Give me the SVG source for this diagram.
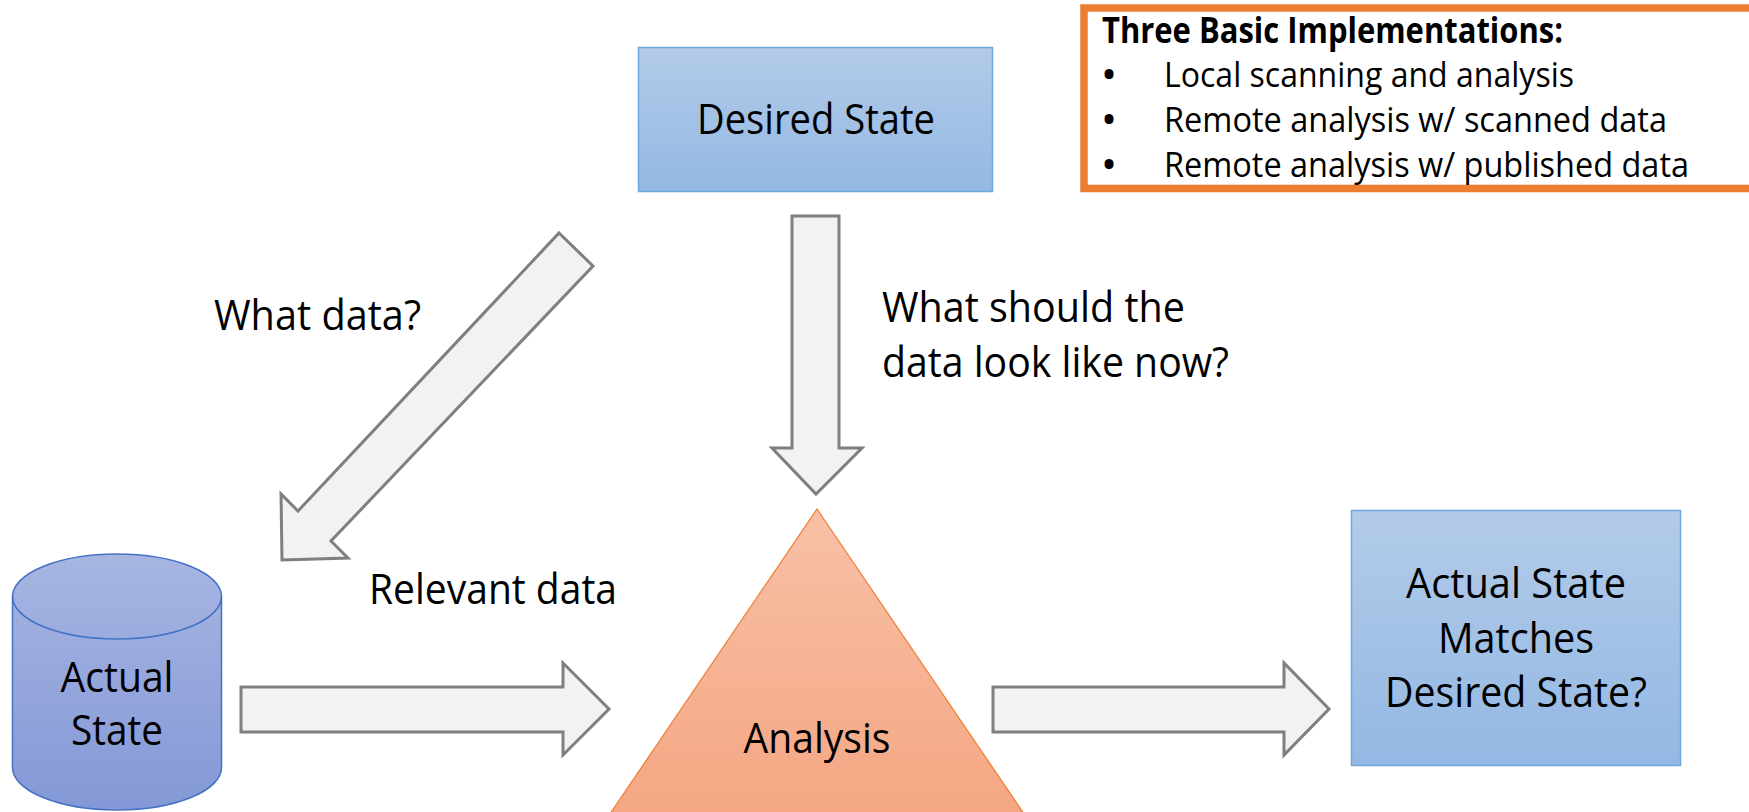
<svg xmlns="http://www.w3.org/2000/svg" width="1749" height="812" viewBox="0 0 1749 812">
<defs>
<linearGradient id="gBlue" x1="0" y1="0" x2="0" y2="1">
<stop offset="0" stop-color="#b3cbe9"/>
<stop offset="1" stop-color="#93b8e3"/>
</linearGradient>
<linearGradient id="gCyl" x1="0" y1="0" x2="0" y2="1">
<stop offset="0" stop-color="#a7b5e1"/>
<stop offset="1" stop-color="#8498d7"/>
</linearGradient>
<linearGradient id="gTri" x1="0" y1="0" x2="0" y2="1">
<stop offset="0" stop-color="#f8c0a6"/>
<stop offset="1" stop-color="#f4a37e"/>
</linearGradient>
<style>
.lbl{font-family:"Open Sans","Noto Sans","Liberation Sans",sans-serif;font-size:42px;fill:#000}
.box{font-family:"Open Sans","Noto Sans","Liberation Sans",sans-serif;font-size:35px;fill:#000}
.bul{font-family:"Open Sans","Noto Sans","Liberation Sans",sans-serif;font-size:32px;font-weight:bold;fill:#000;text-anchor:middle}
.bold{font-weight:bold}
.arrow{fill:#f2f2f2;stroke:#7f7f7f;stroke-width:3;stroke-linejoin:miter}
.mid{text-anchor:middle}
</style>
</defs>
<rect width="1749" height="812" fill="#fff"/>

<g id="connectors">
<polygon class="arrow" points="559,233 593,266 331,541 348,558 282,560 281,494 298,511"/>
<polygon class="arrow" points="792,216 839,216 839,448 862,448 816,494 772,448 792,448"/>
<polygon class="arrow" points="241,687 563,687 563,663 609,709 563,755 563,732 241,732"/>
<polygon class="arrow" points="993,687 1284,687 1284,663 1329,709 1284,755 1284,732 993,732"/>
<text class="lbl" x="214" y="330" textLength="207" lengthAdjust="spacingAndGlyphs">What data?</text>
<text class="lbl" x="882" y="322" textLength="303" lengthAdjust="spacingAndGlyphs">What should the</text>
<text class="lbl" x="882" y="377" textLength="347" lengthAdjust="spacingAndGlyphs">data look like now?</text>
<text class="lbl" x="369" y="604" textLength="248" lengthAdjust="spacingAndGlyphs">Relevant data</text>
</g>

<g id="desired-state">
<rect x="638.5" y="47.5" width="354" height="144" fill="url(#gBlue)" stroke="#6fa6dc" stroke-width="1.5"/>
<text class="lbl mid" x="816" y="134" textLength="238" lengthAdjust="spacingAndGlyphs">Desired State</text>
</g>

<g id="implementations">
<rect x="1084" y="8" width="700" height="180.5" fill="#fff" stroke="#ed7d31" stroke-width="7.5"/>
<text class="box bold" x="1102" y="43" textLength="461" lengthAdjust="spacingAndGlyphs">Three Basic Implementations:</text>
<text class="bul" x="1109" y="86">•</text>
<text class="box" x="1164" y="87" textLength="410" lengthAdjust="spacingAndGlyphs">Local scanning and analysis</text>
<text class="bul" x="1109" y="131">•</text>
<text class="box" x="1164" y="132" textLength="503" lengthAdjust="spacingAndGlyphs">Remote analysis w/ scanned data</text>
<text class="bul" x="1109" y="176">•</text>
<text class="box" x="1164" y="177" textLength="525" lengthAdjust="spacingAndGlyphs">Remote analysis w/ published data</text>
</g>

<g id="actual-state">
<path d="M12.5,596.5 A104.5,42.5 0 0 1 221.5,596.5 L221.5,767.5 A104.5,42.5 0 0 1 12.5,767.5 Z" fill="url(#gCyl)" stroke="#4472c4" stroke-width="1.5"/>
<path d="M12.5,596.5 A104.5,42.5 0 0 0 221.5,596.5" fill="none" stroke="#4472c4" stroke-width="1.5"/>
<text class="lbl mid" x="117" y="692" textLength="113" lengthAdjust="spacingAndGlyphs">Actual</text>
<text class="lbl mid" x="117" y="745" textLength="92" lengthAdjust="spacingAndGlyphs">State</text>
</g>

<g id="analysis">
<polygon points="817,509 1052,855 582,855" fill="url(#gTri)" stroke="#ed7d31" stroke-width="1.2"/>
<text class="lbl mid" x="817" y="753" textLength="147" lengthAdjust="spacingAndGlyphs">Analysis</text>
</g>

<g id="result">
<rect x="1351.5" y="510.5" width="329" height="255" fill="url(#gBlue)" stroke="#6fa6dc" stroke-width="1.5"/>
<text class="lbl mid" x="1516" y="598" textLength="220" lengthAdjust="spacingAndGlyphs">Actual State</text>
<text class="lbl mid" x="1516" y="653" textLength="156" lengthAdjust="spacingAndGlyphs">Matches</text>
<text class="lbl mid" x="1516" y="707" textLength="262" lengthAdjust="spacingAndGlyphs">Desired State?</text>
</g>
</svg>
